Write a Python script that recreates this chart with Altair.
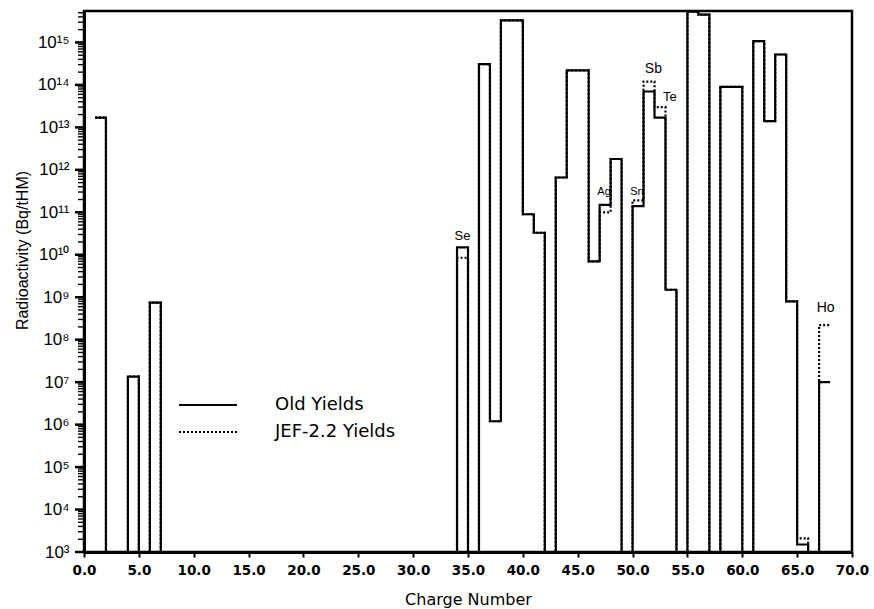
import altair as alt
import pandas as pd

# ---- data (bin for element Z spans [Z, Z+1]) ----
charge = [1, 4, 6, 34, 36, 37, 38, 39, 40, 41, 43, 44, 45, 46, 47, 48, 50, 51,
          52, 53, 55, 56, 58, 59, 61, 62, 63, 64, 65, 67]
old_yields = [1.7e13, 1.35e7, 7.5e8, 1.5e10, 3.1e14, 1.2e6, 3.3e15, 3.3e15, 9e10,
              3.3e10, 6.6e11, 2.2e14, 2.2e14, 7e9, 1.5e11, 1.8e12, 1.4e11, 7e13,
              1.7e13, 1.5e9, 5.3e15, 4.5e15, 9e13, 9e13, 1.07e15, 1.4e13, 5.2e14,
              8e8, 1.5e3, 1.0e7]
jef_yields = [1.7e13, 1.35e7, 7.5e8, 8.5e9, 3.1e14, 1.2e6, 3.3e15, 3.3e15, 9e10,
              3.3e10, 6.6e11, 2.2e14, 2.2e14, 7e9, 1.0e11, 1.8e12, 1.9e11, 1.2e14,
              3.0e13, 1.5e9, 5.3e15, 4.5e15, 9e13, 9e13, 1.07e15, 1.4e13, 5.2e14,
              8e8, 2.1e3, 2.2e8]
series_names = ["Old Yields", "JEF-2.2 Yields"]

label_text = ["Se", "Ag", "Sn", "Sb", "Te", "Ho"]
label_x = [34.5, 47.4, 50.4, 51.9, 53.4, 67.6]
label_y = [10 ** 10.43, 10 ** 11.47, 10 ** 11.47, 10 ** 14.37, 10 ** 13.71, 10 ** 8.75]
label_size = [13, 11, 11, 14, 13, 14]

x_ticks = [0, 5, 10, 15, 20, 25, 30, 35, 40, 45, 50, 55, 60, 65, 70]
y_min, y_max = 1e3, 5.5e15
y_major = [float(10 ** e) for e in range(3, 16)]
y_minor = [float(m * 10 ** e) for e in range(3, 16) for m in range(2, 10)
           if m * 10 ** e <= y_max]

# ---- step table: floor of axis used where an element has no activity ----
rows = []
first, last = charge[0], charge[-1]
for name, vals in zip(series_names, [old_yields, jef_yields]):
    lookup = dict(zip(charge, vals))
    for z in range(first, last + 1):
        rows.append({"Z": z, "A": lookup.get(z, y_min), "series": name})
    rows.append({"Z": last + 1, "A": lookup[last], "series": name})
df = pd.DataFrame(rows)

labels_df = pd.DataFrame({"t": label_text, "x": label_x, "y": label_y, "s": label_size})
major_df = pd.DataFrame({"v": y_major})
minor_df = pd.DataFrame({"v": y_minor})

x_scale = alt.Scale(domain=[0, 70], nice=False, zero=False)
y_scale = alt.Scale(type="log", domain=[y_min, y_max], nice=False)

sup = "['⁰','¹','²','³','⁴','⁵','⁶','⁷','⁸','⁹']"
ex = "round(log(datum.value)/LN10)"
label_expr = (f"'10' + ({ex} >= 10 ? {sup}[floor({ex}/10)] : '') + "
              f"{sup}[{ex} % 10]")

lines = alt.Chart(df).mark_line(
    interpolate="step-after", color="black", strokeWidth=2.2
).encode(
    x=alt.X("Z:Q", scale=x_scale,
            axis=alt.Axis(values=x_ticks, format=".1f", title="Charge Number",
                          grid=False, tickSize=5, tickWidth=2, domainWidth=3,
                          domainColor="black", tickColor="black",
                          labelFont="DejaVu Sans", labelFontSize=13.5,
                          labelFontWeight="bold", labelColor="black",
                          labelPadding=6, labelFlush=False,
                          titleFont="DejaVu Sans", titleFontSize=16,
                          titleFontWeight="normal", titleColor="black",
                          titleBaseline="alphabetic", titleY=52)),
    y=alt.Y("A:Q", scale=y_scale,
            axis=alt.Axis(values=y_major, labelExpr=label_expr, labelOverlap=False,
                          title="Radioactivity (Bq/tHM)", grid=False, ticks=False,
                          tickSize=0, domainWidth=3, domainColor="black",
                          labelFont="Liberation Sans", labelFontSize=17,
                          labelColor="black", labelPadding=15, labelFlush=False,
                          titleFont="Liberation Sans", titleFontSize=16,
                          titleFontWeight="normal", titleColor="black",
                          titleBaseline="alphabetic", titleX=-57, titleY=239,
                          titleAngle=270)),
    strokeDash=alt.StrokeDash(
        "series:N",
        scale=alt.Scale(domain=series_names, range=[[1, 0], [2, 2]]),
        legend=alt.Legend(title=None, orient="none", legendX=111, legendY=381,
                          symbolType="M-2.5,0H2.5", symbolSize=538,
                          symbolStrokeWidth=2.2, symbolStrokeColor="black",
                          symbolFillColor="transparent",
                          labelFont="DejaVu Sans", labelFontSize=18,
                          labelColor="black", labelOffset=54, rowPadding=5)),
    detail="series:N",
)

major_ticks = alt.Chart(major_df).mark_rule(
    color="black", strokeWidth=2.5, clip=False, opacity=1
).encode(
    y=alt.Y("v:Q", scale=y_scale), x=alt.value(-9), x2=alt.value(1))
minor_ticks = alt.Chart(minor_df).mark_rule(
    color="black", strokeWidth=1.4, clip=False, opacity=1
).encode(
    y=alt.Y("v:Q", scale=y_scale), x=alt.value(-6), x2=alt.value(1))

texts = alt.Chart(labels_df).mark_text(
    font="Liberation Sans", color="black", baseline="middle", align="center"
).encode(
    x=alt.X("x:Q", scale=x_scale),
    y=alt.Y("y:Q", scale=y_scale),
    text="t:N",
    size=alt.Size("s:Q", scale=None, legend=None),
)

chart = alt.layer(lines, major_ticks, minor_ticks, texts).properties(
    width=768, height=541,
    autosize=alt.AutoSizeParams(type="none"),
    padding={"left": 84, "top": 11, "right": 22, "bottom": 57},
    background="white",
).configure_view(stroke="black", strokeWidth=2.5)

chart.save("out.html", embed_options={"renderer": "svg", "actions": False})
